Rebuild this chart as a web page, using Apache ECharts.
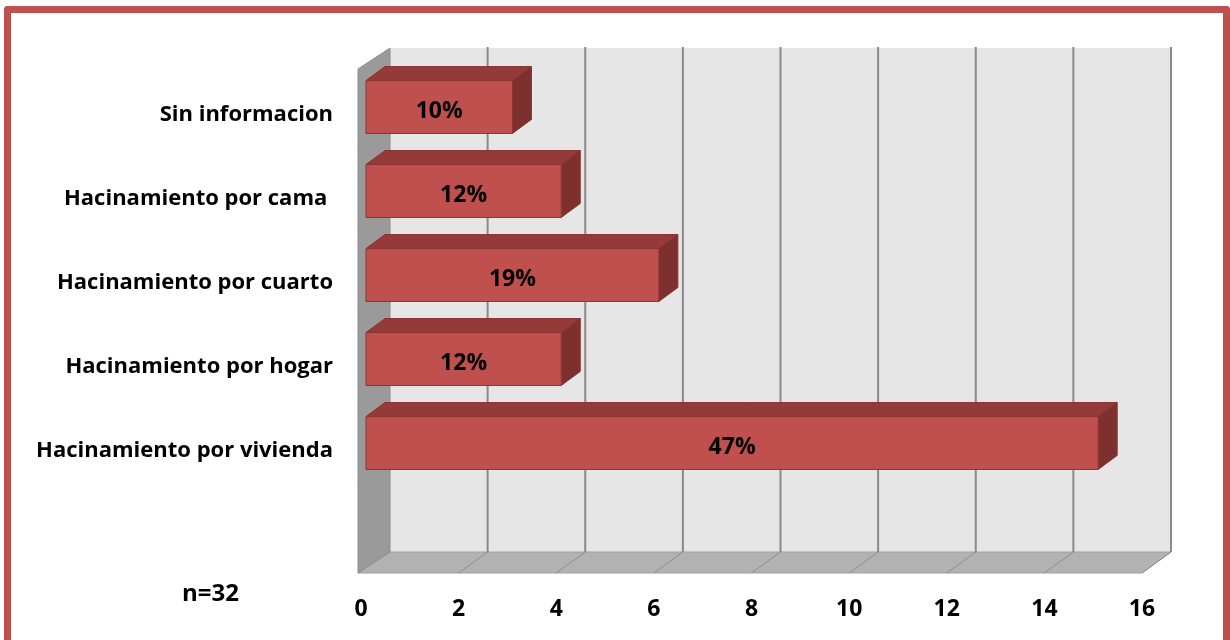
<!DOCTYPE html>
<html>
<head>
<meta charset="utf-8">
<script src="https://cdn.jsdelivr.net/npm/echarts@6/dist/echarts.min.js"></script>
<style>
html,body{margin:0;padding:0;background:#fff;}
#frame{position:absolute;left:4px;top:6px;width:1212px;height:640px;border:7px solid #C0504D;border-bottom:none;border-radius:4px 4px 0 0;}
#chart{position:absolute;left:0;top:0;width:1230px;height:640px;}
</style>
</head>
<body>
<div id="frame"></div>
<div id="chart"></div>
<script>
const categories = ['Sin informacion', 'Hacinamiento por cama ', 'Hacinamiento por cuarto', 'Hacinamiento por hogar', 'Hacinamiento por vivienda', ''];
const counts = [3, 4, 6, 4, 15];
const percentLabels = ['10%', '12%', '19%', '12%', '47%'];
const xTicks = [0, 2, 4, 6, 8, 10, 12, 14, 16];
const sampleNote = 'n=32';

const FONT = '"Open Sans", "Noto Sans", sans-serif';
const DX = 29, DY = -21;      // wall depth
const BX = 5, BY = -4;        // bar front offset
const BDX = 19, BDY = -14;    // bar depth

const chart = echarts.init(document.getElementById('chart'), null, {renderer: 'canvas'});

function wallsRender(params, api) {
  const cs = params.coordSys;
  const x = cs.x, y = cs.y, w = cs.width, h = cs.height;
  const children = [];
  children.push({type: 'polygon', shape: {points: [[x + DX, y + DY], [x + w + DX, y + DY], [x + w + DX, y + h + DY], [x + DX, y + h + DY]]},
    style: {fill: '#E6E6E6', stroke: null}});
  children.push({type: 'polygon', shape: {points: [[x - 3, y + h], [x + w, y + h], [x + w + DX, y + h + DY], [x + DX, y + h + DY]]},
    style: {fill: '#B2B2B2', stroke: '#A0A0A0', lineWidth: 1}});
  children.push({type: 'polygon', shape: {points: [[x - 3, y], [x + DX, y + DY], [x + DX, y + h + DY], [x - 3, y + h]]},
    style: {fill: '#9A9A9A', stroke: '#8C8C8C', lineWidth: 1}});
  xTicks.forEach(function (t, i) {
    const px = api.coord([t, 0])[0];
    if (i > 0) {
      children.push({type: 'line', shape: {x1: px + DX, y1: y + DY - 1, x2: px + DX, y2: y + h + DY},
        style: {stroke: '#8A8A8A', lineWidth: 2}});
      children.push({type: 'line', shape: {x1: px, y1: y + h, x2: px + DX, y2: y + h + DY},
        style: {stroke: '#8E8E8E', lineWidth: 1}});
    }
  });
  return {type: 'group', children: children};
}

function barRender(params, api) {
  const cat = api.value(0);
  const val = api.value(1);
  const p0 = api.coord([0, cat]);
  const p1 = api.coord([val, cat]);
  const band = api.size([0, 1])[1];
  const bh = band * 0.63;
  const x0 = p0[0] + BX, x1 = p1[0] + BX;
  const yc = p0[1] + BY;
  const yt = yc - bh / 2, yb = yc + bh / 2;
  const edge = '#8B3432';
  return {type: 'group', children: [
    {type: 'polygon', shape: {points: [[x0, yt], [x0 + BDX, yt + BDY], [x1 + BDX, yt + BDY], [x1, yt]]},
      style: {fill: '#943B39', stroke: edge, lineWidth: 1}},
    {type: 'polygon', shape: {points: [[x1, yt], [x1 + BDX, yt + BDY], [x1 + BDX, yb + BDY], [x1, yb]]},
      style: {fill: '#7E302E', stroke: edge, lineWidth: 1}},
    {type: 'rect', shape: {x: x0, y: yt, width: x1 - x0, height: bh},
      style: {fill: '#C0504D', stroke: edge, lineWidth: 1}},
    {type: 'text', style: {text: percentLabels[params.dataIndex], x: (x0 + x1) / 2, y: yc + 4,
      align: 'center', verticalAlign: 'middle', fill: '#000', font: 'bold 23px ' + FONT}}
  ]};
}

chart.setOption({
  animation: false,
  backgroundColor: 'transparent',
  grid: {left: 361, right: 88, top: 69, bottom: 67, containLabel: false},
  xAxis: {
    type: 'value', min: 0, max: 16, interval: 2,
    axisLine: {show: false}, axisTick: {show: false}, splitLine: {show: false},
    axisLabel: {margin: 25, color: '#000', fontWeight: 'bold', fontSize: 23, fontFamily: FONT,
      formatter: function (v) { return xTicks.indexOf(v) >= 0 ? String(v) : ''; }}
  },
  yAxis: {
    type: 'category', data: categories, inverse: true,
    axisLine: {show: false}, axisTick: {show: false}, splitLine: {show: false},
    axisLabel: {margin: 28, color: '#000',
      formatter: function (v) { return v ? '{c|' + v + '}' : ''; },
      rich: {c: {fontWeight: 'bold', fontSize: 22, fontFamily: FONT, color: '#000', padding: [7, 0, 0, 0]}}}
  },
  graphic: [{type: 'text', style: {text: sampleNote, x: 182, y: 594, verticalAlign: 'middle', fill: '#000', font: 'bold 24px ' + FONT}}],
  series: [
    {type: 'custom', renderItem: wallsRender, data: [[0, 0]], z: 1, silent: true},
    {type: 'custom', renderItem: barRender, z: 5, encode: {x: 1, y: 0},
      data: counts.map(function (v, i) { return [i, v]; })}
  ]
});
</script>
</body>
</html>
